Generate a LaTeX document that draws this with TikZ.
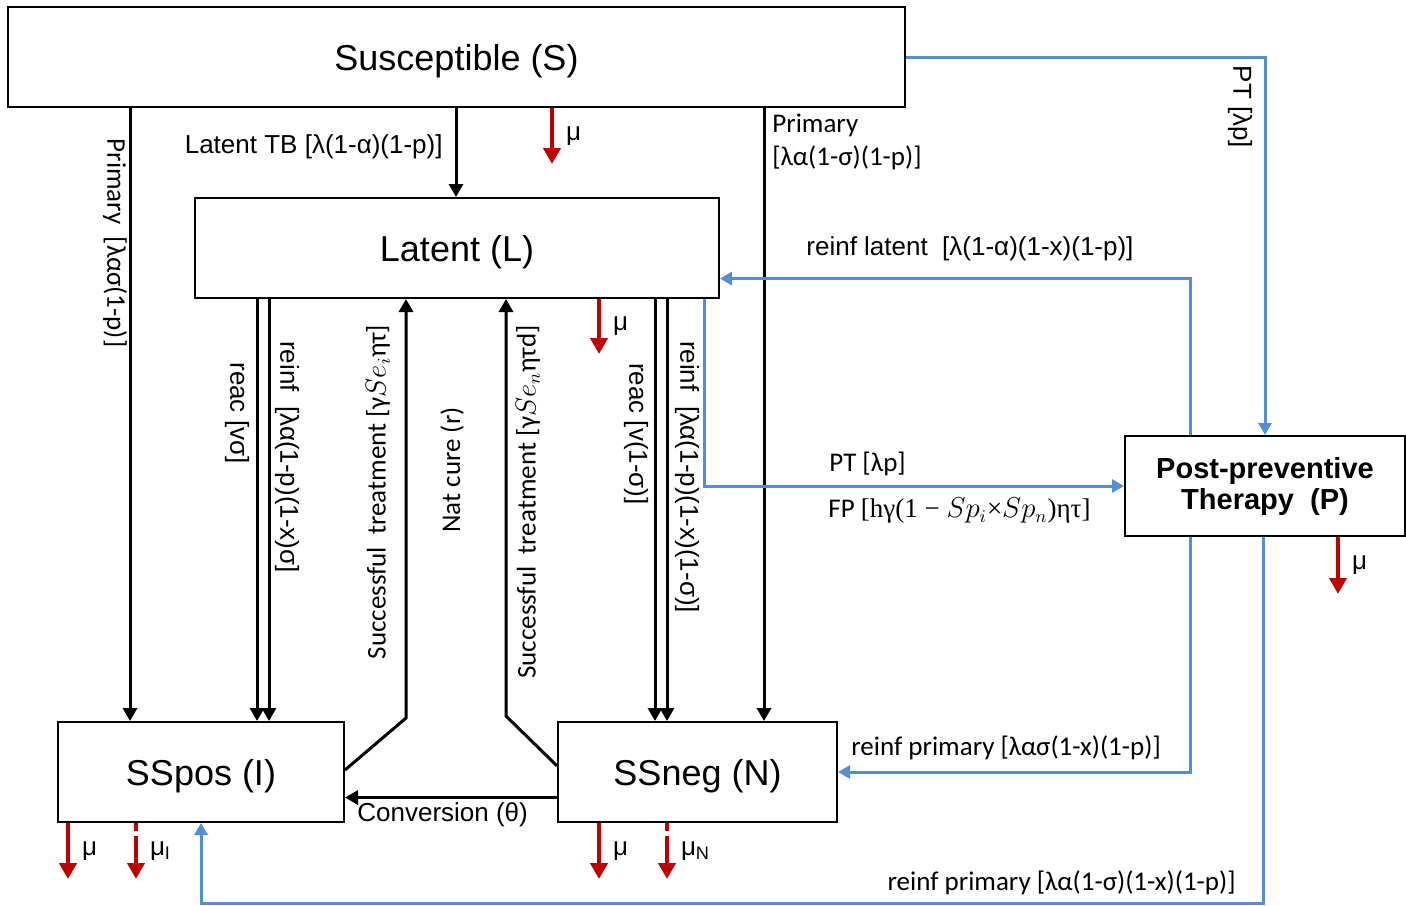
\documentclass[tikz,border=0pt]{standalone}
\usepackage{fontspec}
\setmainfont{Liberation Sans}
\newfontfamily\calibri{Carlito}
\newfontfamily\serifx{Liberation Serif}
\usetikzlibrary{arrows.meta,calc}
\definecolor{tbred}{RGB}{192,0,0}
\definecolor{tbblue}{RGB}{85,142,213}
\begin{document}
\begin{tikzpicture}[x=0.5pt,y=-0.5pt,
  box/.style={draw,line width=1pt,minimum width=#1,minimum height=50pt,inner sep=0pt,
    font=\fontsize{18}{21}\selectfont},
  onel/.style={text depth=0pt},
  blk/.style={line width=1.5pt,-{Triangle[width=7pt,length=6.5pt]}},
  blu/.style={draw=tbblue,line width=1.5pt,-{Triangle[width=6.5pt,length=6pt]}},
  mort/.style={draw=tbred,line width=2pt,-{Triangle[width=8.5pt,length=8pt]}},
  mortd/.style={mort,dash pattern=on 4pt off 2.5pt on 40pt},
  lab/.style={font=\fontsize{13}{15.6}\selectfont,inner sep=0pt},
  labc/.style={font=\calibri\fontsize{13.5}{16}\selectfont,inner sep=0pt},
  mulab/.style={font=\fontsize{13}{15.6}\selectfont,inner sep=0pt,anchor=west,xshift=6pt}]
\useasboundingbox (0,0) rectangle (1406,905);

% boxes
\node[box=448.5pt,onel] (S) at (456.5,57) {Susceptible (S)};
\node[box=262pt,onel] (L) at (457,248) {Latent (L)};
\node[box=143pt,onel] (I) at (201,772) {SSpos (I)};
\node[box=139.5pt,onel] (N) at (697.5,772) {SSneg (N)};
\node[box=140pt,font=\bfseries\fontsize{14.5}{15.5}\selectfont,align=center] (P) at (1265,486) {Post-preventive\\Therapy~ (P)};

% x positions
\coordinate (c130) at (130,0);
\coordinate (c456) at (456,0);
\coordinate (c764) at (764,0);
\coordinate (c257) at (257,0);
\coordinate (c269) at (269,0);
\coordinate (c655) at (655,0);
\coordinate (c667) at (667,0);
\coordinate (c704) at (704,0);
\coordinate (c1190) at (1190,0);
\coordinate (c1263) at (1263,0);
\coordinate (c552) at (552,0);
\coordinate (c599) at (599,0);
\coordinate (c1338) at (1338,0);
\coordinate (c68) at (68,0);
\coordinate (c136) at (136,0);

% black transitions
\draw[blk] (S.south -| c130) -- (I.north -| c130);
\draw[blk] (S.south -| c456) -- (L.north -| c456);
\draw[blk] (S.south -| c764) -- (N.north -| c764);
\draw[blk] (L.south -| c257) -- (I.north -| c257);
\draw[blk] (L.south -| c269) -- (I.north -| c269);
\draw[blk] (L.south -| c655) -- (N.north -| c655);
\draw[blk] (L.south -| c667) -- (N.north -| c667);
\coordinate (ti) at (406,718);
\coordinate (tn) at (506,716);
\draw[blk] ($(I.north east)!0.48!(I.south east)$) -- (ti) -- (ti |- L.south);
\draw[blk] ($(N.north west)!0.44!(N.south west)$) -- (tn) -- (tn |- L.south);
\coordinate (cv) at ($(N.south west)!0.25!(N.north west)$);
\draw[blk] (cv) -- (cv -| I.east);

% blue transitions
\coordinate (rl) at ($(L.north east)!0.8!(L.south east)$);
\coordinate (bot) at (0,903);
\draw[blu] (L.south -| c704) |- (P.west);
\draw[blu] (S.east) -| (P.north);
\draw[blu] (P.north -| c1190) |- (rl);
\draw[blu] (P.south -| c1190) |- (N.east);
\draw[blu] (P.south -| c1263) |- (bot -| I.south) -- (I.south);

% mortality
\draw[mort] (S.south -| c552) -- ++(0,56) node[midway,mulab] {μ};
\draw[mort] (L.south -| c599) -- ++(0,55) node[midway,mulab] {μ};
\draw[mort] (P.south -| c1338) -- ++(0,57) node[midway,mulab] {μ};
\draw[mort] (I.south -| c68) -- ++(0,56) node[midway,mulab] {μ};
\draw[mortd] (I.south -| c136) -- ++(0,56) node[midway,mulab] {μ\textsubscript{I}};
\draw[mort] (N.south -| c599) -- ++(0,56) node[midway,mulab] {μ};
\draw[mortd] (N.south -| c667) -- ++(0,56) node[midway,mulab] {μ\textsubscript{N}};

% labels
\node[lab,anchor=east] (tLTB) at (443,147) {Latent TB [λ(1-α)(1-p)]};
\node[labc,anchor=west] (tPr1) at (772,125) {Primary};
\node[labc,anchor=west] (tPr2) at (772,158) {[λα(1-σ)(1-p)]};
\node[lab,anchor=west] (tRL) at (806,249) {reinf latent~ [λ(1-α)(1-x)(1-p)]};
\node[labc,anchor=west] (tRP1) at (851,748) {reinf primary [λασ(1-x)(1-p)]};
\node[labc,anchor=east] (tRP2) at (1236,883) {reinf primary [λα(1-σ)(1-x)(1-p)]};
\node[lab,anchor=west] (tCv) at (357,815) {Conversion (θ)};
\node[labc,anchor=west] (tPT) at (829,464) {PT [λp]};
\node[labc,anchor=west] (tFP) at (828,511) {FP {\serifx [hγ(1 − }$Sp_i${\serifx ×}$Sp_n${\serifx )ητ]}};
\node[lab,rotate=-90] (tPT2) at (1240,107) {PT [λp]};

% vertical labels
\node[labc,rotate=-90] (tPrL) at (115,243) {Primary~ [λασ(1-p)]};
\node[lab,rotate=-90] (tRe1) at (237,413) {reac [vσ]};
\node[lab,rotate=-90] (tRi1) at (287,457) {reinf~ [λα(1-p)(1-x)σ]};
\node[labc,rotate=90] (tST1) at (378,492) {Successful~ treatment [γ$Se_i$ητ]};
\node[labc,rotate=90] (tNC) at (452,470) {Nat cure (r)};
\node[labc,rotate=90] (tST2) at (528,502) {Successful~ treatment [γ$Se_n$ητd]};
\node[lab,rotate=-90] (tRe2) at (636,434) {reac [v(1-σ)]};
\node[lab,rotate=-90] (tRi2) at (687,477) {reinf~ [λα(1-p)(1-x)(1-σ)]};
\end{tikzpicture}
\end{document}
